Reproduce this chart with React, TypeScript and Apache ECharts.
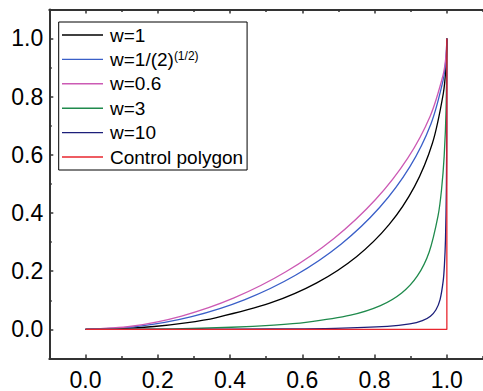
import React, { useEffect, useRef } from "react";
import * as echarts from "echarts";

const seriesNames = ["w=1", "w=1/(2)^(1/2)", "w=0.6", "w=3", "w=10", "Control polygon"];
const seriesColors = ["#000000", "#3a5fc8", "#cc5ab4", "#1f8a4c", "#1c1f7a", "#e8262e"];

const w1: number[][] = [
  [0, 0], [0.0975, 0.0025], [0.19, 0.01], [0.2775, 0.0225], [0.36, 0.04], [0.51, 0.09],
  [0.64, 0.16], [0.75, 0.25], [0.84, 0.36], [0.91, 0.49], [0.96, 0.64], [0.99, 0.81],
  [0.9975, 0.9025], [1, 1],
];
const wSqrt: number[][] = [
  [0, 0], [0.1449, 0.0106], [0.2938, 0.0441], [0.4413, 0.1026], [0.5811, 0.1862],
  [0.7071, 0.2929], [0.8138, 0.4189], [0.8974, 0.5587], [0.9559, 0.7062], [0.9894, 0.8551],
  [0.9974, 0.9283], [1, 1],
];
const w06: number[][] = [
  [0, 0], [0.1272, 0.0108], [0.2661, 0.0459], [0.4111, 0.1082], [0.5545, 0.198],
  [0.6875, 0.3125], [0.802, 0.4455], [0.8918, 0.5889], [0.9541, 0.7339], [0.9892, 0.8728],
  [0.9974, 0.9382], [1, 1],
];
const w3: number[][] = [
  [0, 0], [0.2416, 0.0021], [0.4044, 0.0074], [0.5215, 0.0149], [0.6098, 0.0244],
  [0.7337, 0.0489], [0.8163, 0.0816], [0.875, 0.125], [0.9184, 0.1837], [0.9511, 0.2663],
  [0.9756, 0.3902], [0.9851, 0.4785], [0.9926, 0.5956], [0.9979, 0.7584], [1, 1],
];
const w10: number[][] = [
  [0, 0], [0.2901, 0.0003], [0.5135, 0.0014], [0.6908, 0.0038], [0.8351, 0.0103],
  [0.8975, 0.0188], [0.9323, 0.0301], [0.9545, 0.0455], [0.9699, 0.0677], [0.9812, 0.1025],
  [0.9897, 0.1649], [0.9932, 0.2193], [0.9962, 0.3092], [0.9987, 0.4865], [0.9997, 0.7099],
  [1, 1],
];
const controlPolygon: number[][] = [[0, 0], [1, 0], [1, 1]];
const seriesData = [w1, wSqrt, w06, w3, w10, controlPolygon];

const majorTicks = [0, 0.2, 0.4, 0.6, 0.8, 1.0];
const minorTicks = [-0.1, 0.1, 0.3, 0.5, 0.7, 0.9, 1.1];

const FONT = "'Liberation Sans', Arial, Helvetica, sans-serif";
const AXIS_COLOR = "#333333";

export default function App() {
  const ref = useRef<HTMLDivElement>(null);
  useEffect(() => {
    if (!ref.current) return;
    const chart = echarts.init(ref.current, undefined, { renderer: "svg" });
    const base = { min: -0.1, max: 1.1, splitLine: { show: false }, type: "value" as const };
    const majorAxis = (position: string, labels: boolean, line: boolean) => ({
      ...base,
      position,
      axisLine: { show: line, onZero: false, lineStyle: { color: AXIS_COLOR, width: 2 } },
      axisTick: { show: true, inside: true, length: 4, customValues: majorTicks, lineStyle: { color: AXIS_COLOR, width: 1.5 } },
      axisLabel: labels
        ? {
            show: true,
            customValues: majorTicks,
            formatter: (v: number) => v.toFixed(1),
            fontSize: 23,
            fontFamily: FONT,
            color: "#000",
            margin: position === "bottom" ? 9.5 : 6,
          }
        : { show: false },
    });
    const minorAxis = (position: string) => ({
      ...base,
      position,
      axisLine: { show: false, onZero: false },
      axisTick: { show: true, inside: true, length: 2.5, customValues: minorTicks, lineStyle: { color: AXIS_COLOR, width: 1.5 } },
      axisLabel: { show: false },
    });
    chart.setOption({
      animation: false,
      backgroundColor: "#ffffff",
      grid: { left: 49.3, top: 9.4, width: 440.8, height: 355.2, containLabel: false },
      xAxis: [majorAxis("bottom", true, true), minorAxis("bottom"), majorAxis("top", false, true), minorAxis("top")],
      yAxis: [majorAxis("left", true, true), minorAxis("left")],
      legend: {
        data: seriesNames,
        orient: "vertical",
        left: 58.7,
        top: 22,
        icon: "rect",
        itemWidth: 41,
        itemHeight: 1.4,
        itemGap: 5.4,
        padding: [3.5, 4, 3.5, 3.3],
        borderColor: "#000",
        borderWidth: 1,
        backgroundColor: "#fff",
        selectedMode: false,
        formatter: (name: string) => (name === "w=1/(2)^(1/2)" ? "w=1/(2){sup|(1/2)}" : name),
        textStyle: {
          fontSize: 19,
          lineHeight: 19,
          fontFamily: FONT,
          color: "#000",
          padding: [0, 0, 0, 2],
          rich: {
            sup: { fontSize: 12, lineHeight: 12, verticalAlign: "top", fontFamily: FONT, color: "#000" },
          },
        },
      },
      series: seriesNames.map((name, i) => ({
        name,
        type: "line",
        data: seriesData[i],
        xAxisIndex: 0,
        yAxisIndex: 0,
        showSymbol: false,
        symbol: "none",
        smooth: i === 5 ? false : 0.3,
        lineStyle: { color: seriesColors[i], width: 1.3 },
        itemStyle: { color: seriesColors[i] },
        z: 2 + i,
      })),
    });
    return () => chart.dispose();
  }, []);
  return <div ref={ref} style={{ width: 483, height: 391, position: "absolute", left: 0, top: 0 }} />;
}
